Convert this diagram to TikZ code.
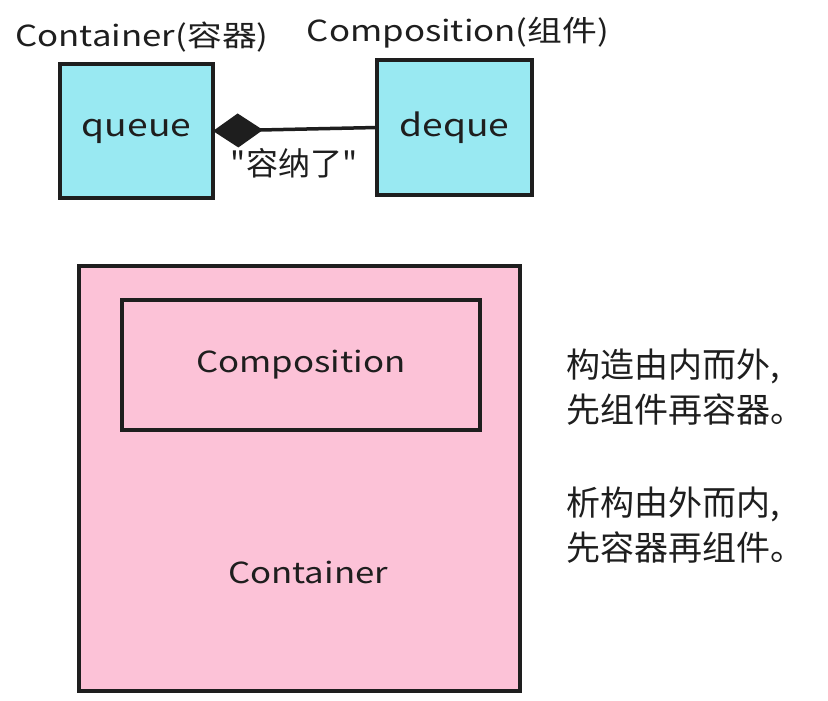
\documentclass[tikz,border=0pt]{standalone}
\usepackage{fontspec}
\setmainfont{Noto Sans CJK SC}
\newfontfamily\wide[FakeStretch=1.2]{Noto Sans CJK SC}
\newfontfamily\plainq{Noto Sans CJK SC}
\usetikzlibrary{arrows.meta}
\definecolor{cy}{HTML}{99E9F2}
\definecolor{pk}{HTML}{FCC2D7}
\definecolor{ink}{HTML}{1E1E1E}
\begin{document}
\begin{tikzpicture}[x=1pt,y=-1pt,
  box/.style={draw=ink,line width=4pt,inner sep=0pt,outer sep=0pt},
  lbl/.style={text=ink,font=\wide\fontsize{29}{34}\selectfont,inner sep=0pt},
  note/.style={text=ink,font=\fontsize{34}{45}\selectfont,inner sep=0pt,align=left,anchor=north west},
  conn/.style={draw=ink,line width=3.5pt}]
\useasboundingbox[fill=white] (0,0) rectangle (828,701);
% top
\node[box,fill=cy,minimum width=153pt,minimum height=134pt] (queue) at (136.5,131) {};
\node[lbl,font=\wide\fontsize{31}{34}\selectfont] (qt) at (queue.center) {queue};
\node[box,fill=cy,minimum width=155pt,minimum height=135pt] (deque) at (454.5,127.5) {};
\node[lbl,font=\wide\fontsize{31}{34}\selectfont] (dt) at (deque.center) {deque};
\node[lbl] (clab) at (142,37) {Container(容器)};
\node[lbl] (plab) at (458,33) {Composition(组件)};
\draw[conn,-{Diamond[length=50pt,width=34pt]}] (deque.west) -- (queue.east);
\node[lbl,font=\plainq\fontsize{32}{34}\selectfont] (hold) at (294,163) {"容纳了"};
% bottom
\node[box,fill=pk,minimum width=441pt,minimum height=425pt] (outer) at (299.5,478.5) {};
\node[box,minimum width=358pt,minimum height=130pt] (inner) at (301,365) {};
\node[lbl] (it) at (inner.center) {Composition};
\node[lbl] (ot) at (308,572) {Container};
% notes
\node[note] (n1) at (566,349) {构造由内而外,\\先组件再容器。};
\node[note] (n2) at (566,487) {析构由外而内,\\先容器再组件。};
\end{tikzpicture}
\end{document}
